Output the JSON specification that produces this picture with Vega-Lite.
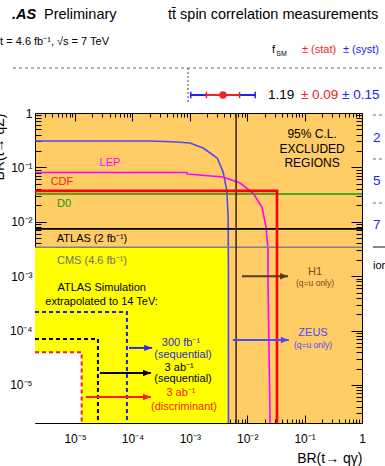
{
  "$schema": "https://vega.github.io/schema/vega-lite/v6.json",
  "width": 327,
  "height": 310,
  "autosize": {"type": "none"},
  "padding": {"left": 35, "top": 113, "right": 23, "bottom": 43},
  "background": "#ffffff",
  "config": {
    "view": {"fill": "#FFCC66", "stroke": null},
    "font": "Liberation Sans",
    "axis": {"zindex": 1, "grid": false, "domainColor": "#000000", "tickColor": "#000000", "labelColor": "#000000", "titleColor": "#000000", "labelFont": "Liberation Sans", "titleFont": "Liberation Sans", "domainWidth": 1, "tickWidth": 1}
  },
  "datasets": {
    "spintext": [
      {"k": "title", "part": "label", "f": 0.8914, "v": -1.2, "t": "tt̄ spin correlation measurements"},
      {"k": "prelim", "part": "label", "f": 0.2183, "v": -1.2, "t": "Preliminary"},
      {"k": "atlas", "part": "label", "f": 0.0445, "v": -1.2, "t": ".AS"},
      {"k": "lumi", "part": "label", "f": -0.02, "v": -0.59, "t": "t = 4.6 fb⁻¹, √s = 7 TeV"},
      {"k": "head", "part": "label", "f": 1.456, "v": -0.41, "t": "f"},
      {"k": "sub", "part": "label", "f": 1.479, "v": -0.318, "t": "SM"},
      {"k": "head", "part": "stat", "f": 1.619, "v": -0.41, "t": "± (stat)"},
      {"k": "head", "part": "syst", "f": 1.841, "v": -0.41, "t": "± (syst)"},
      {"k": "val", "part": "label", "f": 1.434, "v": 0.614, "t": "1.19"},
      {"k": "val", "part": "stat", "f": 1.613, "v": 0.614, "t": "± 0.09"},
      {"k": "val", "part": "syst", "f": 1.836, "v": 0.614, "t": "± 0.15"},
      {"k": "val", "part": "syst", "f": 2.004, "v": 1.59, "t": "2"},
      {"k": "val", "part": "syst", "f": 2.004, "v": 2.568, "t": "5"},
      {"k": "val", "part": "syst", "f": 2.004, "v": 3.568, "t": "7"},
      {"k": "head", "part": "label", "f": 2.004, "v": 4.5, "t": "ion"}
    ],
    "spinsep": [
      {"kind": "dashed", "f1": 0.05, "f2": 2.07, "v": 0},
      {"kind": "dashed", "f1": 2.004, "f2": 2.07, "v": 1.068},
      {"kind": "dashed", "f1": 2.004, "f2": 2.07, "v": 2.068},
      {"kind": "dashed", "f1": 2.004, "f2": 2.07, "v": 3.068},
      {"kind": "solid", "f1": 2.004, "f2": 2.07, "v": 4.068}
    ],
    "spinref": [{"f": 1, "v1": 0, "v2": 0.8}],
    "spinmeas": [{"f": 1.19, "lo_tot": 1.015, "hi_tot": 1.365, "lo_stat": 1.1, "hi_stat": 1.28, "v": 0.614}],
    "regions": [
      {"id": "current", "x1": 2e-6, "x2": 0.0047, "y1": 2e-6, "y2": 0.0034},
      {"id": "beyond", "x1": 2e-6, "x2": 1.3e-5, "y1": 2e-6, "y2": 4.0e-5}
    ],
    "brlines": [
      {"s": "ZEUS", "i": 0, "x": 2e-6, "y": 0.306},
      {"s": "ZEUS", "i": 1, "x": 2e-4, "y": 0.306},
      {"s": "ZEUS", "i": 2, "x": 5e-4, "y": 0.296},
      {"s": "ZEUS", "i": 3, "x": 0.001, "y": 0.281},
      {"s": "ZEUS", "i": 4, "x": 0.0017, "y": 0.227},
      {"s": "ZEUS", "i": 5, "x": 0.003, "y": 0.149},
      {"s": "ZEUS", "i": 6, "x": 0.0038, "y": 0.082},
      {"s": "ZEUS", "i": 7, "x": 0.0044, "y": 0.038},
      {"s": "ZEUS", "i": 8, "x": 0.00465, "y": 0.0122},
      {"s": "ZEUS", "i": 9, "x": 0.0047, "y": 0.001},
      {"s": "ZEUS", "i": 10, "x": 0.0047, "y": 2e-6},
      {"s": "LEP", "i": 0, "x": 2e-6, "y": 0.0805},
      {"s": "LEP", "i": 1, "x": 8.9e-4, "y": 0.0805},
      {"s": "LEP", "i": 2, "x": 9.0e-4, "y": 0.0756},
      {"s": "LEP", "i": 3, "x": 0.0038, "y": 0.0666},
      {"s": "LEP", "i": 4, "x": 0.0075, "y": 0.0516},
      {"s": "LEP", "i": 5, "x": 0.0126, "y": 0.0338},
      {"s": "LEP", "i": 6, "x": 0.018, "y": 0.0187},
      {"s": "LEP", "i": 7, "x": 0.0213, "y": 0.008},
      {"s": "LEP", "i": 8, "x": 0.023, "y": 0.003},
      {"s": "LEP", "i": 9, "x": 0.023, "y": 8.5e-4},
      {"s": "LEP", "i": 10, "x": 0.025, "y": 2e-6},
      {"s": "CDF", "i": 0, "x": 2e-6, "y": 0.037},
      {"s": "CDF", "i": 1, "x": 0.033, "y": 0.037},
      {"s": "CDF", "i": 2, "x": 0.033, "y": 2e-6},
      {"s": "D0", "i": 0, "x": 2e-6, "y": 0.0324},
      {"s": "D0", "i": 1, "x": 1, "y": 0.0324},
      {"s": "ATLAS", "i": 0, "x": 2e-6, "y": 0.0074},
      {"s": "ATLAS", "i": 1, "x": 1, "y": 0.0074},
      {"s": "CMS", "i": 0, "x": 2e-6, "y": 0.0034},
      {"s": "CMS", "i": 1, "x": 1, "y": 0.0034},
      {"s": "H1", "i": 0, "x": 0.0064, "y": 2e-6},
      {"s": "H1", "i": 1, "x": 0.0064, "y": 1}
    ],
    "sim": [
      {"s": "s300", "i": 0, "x": 2e-6, "y": 2.2e-4},
      {"s": "s300", "i": 1, "x": 8.0e-5, "y": 2.2e-4},
      {"s": "s300", "i": 2, "x": 8.0e-5, "y": 2e-6},
      {"s": "s3ab", "i": 0, "x": 2e-6, "y": 7.0e-5},
      {"s": "s3ab", "i": 1, "x": 2.5e-5, "y": 7.0e-5},
      {"s": "s3ab", "i": 2, "x": 2.5e-5, "y": 2e-6},
      {"s": "s3abd", "i": 0, "x": 2e-6, "y": 4.0e-5},
      {"s": "s3abd", "i": 1, "x": 1.3e-5, "y": 4.0e-5},
      {"s": "s3abd", "i": 2, "x": 1.3e-5, "y": 2e-6}
    ],
    "arrows": [
      {"s": "s300", "x1": 8.7e-5, "x2": 2.2e-4, "y": 4.8e-5},
      {"s": "s3ab", "x1": 2.7e-5, "x2": 2.1e-4, "y": 1.66e-5},
      {"s": "s3abd", "x1": 1.55e-5, "x2": 2.1e-4, "y": 6.0e-6},
      {"s": "H1", "x1": 0.0081, "x2": 0.0514, "y": 0.001},
      {"s": "ZEUS", "x1": 0.0056, "x2": 0.053, "y": 6.7e-5}
    ],
    "brtext": [
      {"who": "LEP", "role": "main", "x": 4.05e-5, "y": 0.12, "t": "LEP"},
      {"who": "CDF", "role": "main", "x": 5.9e-6, "y": 0.054, "t": "CDF"},
      {"who": "D0", "role": "main", "x": 6.4e-6, "y": 0.0212, "t": "D0"},
      {"who": "ATLAS", "role": "main", "x": 1.97e-5, "y": 0.0048, "t": "ATLAS (2 fb⁻¹)"},
      {"who": "CMS", "role": "main", "x": 1.97e-5, "y": 0.0019, "t": "CMS (4.6 fb⁻¹)"},
      {"who": "CL", "role": "cl", "x": 0.135, "y": 0.41, "t": "95% C.L."},
      {"who": "CL", "role": "cl", "x": 0.135, "y": 0.218, "t": "EXCLUDED"},
      {"who": "CL", "role": "cl", "x": 0.135, "y": 0.12, "t": "REGIONS"},
      {"who": "H1", "role": "main", "x": 0.152, "y": 0.00119, "t": "H1"},
      {"who": "H1", "role": "sub", "x": 0.152, "y": 7.5e-4, "t": "(q=u only)"},
      {"who": "ZEUS", "role": "main", "x": 0.14, "y": 9.0e-5, "t": "ZEUS"},
      {"who": "ZEUS", "role": "sub", "x": 0.14, "y": 5.4e-5, "t": "(q=u only)"},
      {"who": "sim", "role": "main", "x": 2.9e-5, "y": 6.1e-4, "t": "ATLAS Simulation"},
      {"who": "sim", "role": "main", "x": 2.9e-5, "y": 3.35e-4, "t": "extrapolated to 14 TeV:"},
      {"who": "s300", "role": "main", "x": 7.0e-4, "y": 5.9e-5, "t": "300 fb⁻¹"},
      {"who": "s300", "role": "main", "x": 7.6e-4, "y": 3.6e-5, "t": "(sequential)"},
      {"who": "s3ab", "role": "main", "x": 6.5e-4, "y": 2.05e-5, "t": "3 ab⁻¹"},
      {"who": "s3ab", "role": "main", "x": 7.6e-4, "y": 1.29e-5, "t": "(sequential)"},
      {"who": "s3abd", "role": "main", "x": 7.0e-4, "y": 7.1e-6, "t": "3 ab⁻¹"},
      {"who": "s3abd", "role": "main", "x": 7.9e-4, "y": 3.9e-6, "t": "(discriminant)"}
    ]
  },
  "layer": [
    {
      "layer": [
        {
          "data": {"name": "spinsep"},
          "transform": [{"filter": "datum.kind == 'dashed'"}],
          "mark": {"type": "rule", "color": "#666666", "strokeDash": [3, 3], "strokeWidth": 1},
          "encoding": {
            "x": {"field": "f1", "type": "quantitative", "scale": {"domain": [0.1694, 1.9446], "nice": false, "zero": false}, "axis": null},
            "x2": {"field": "f2"},
            "y": {"field": "v", "type": "quantitative", "scale": {"domain": [1.0227, 8.0682], "reverse": true, "nice": false, "zero": false}, "axis": null}
          }
        },
        {
          "data": {"name": "spinsep"},
          "transform": [{"filter": "datum.kind == 'solid'"}],
          "mark": {"type": "rule", "color": "#888888", "strokeWidth": 2},
          "encoding": {
            "x": {"field": "f1", "type": "quantitative", "scale": {"domain": [0.1694, 1.9446], "nice": false, "zero": false}, "axis": null},
            "x2": {"field": "f2"},
            "y": {"field": "v", "type": "quantitative", "scale": {"domain": [1.0227, 8.0682], "reverse": true, "nice": false, "zero": false}, "axis": null}
          }
        },
        {
          "data": {"name": "spinref"},
          "mark": {"type": "rule", "color": "#444444", "strokeDash": [2, 2], "strokeWidth": 1},
          "encoding": {
            "x": {"field": "f", "type": "quantitative", "scale": {"domain": [0.1694, 1.9446], "nice": false, "zero": false}, "axis": null},
            "y": {"field": "v1", "type": "quantitative", "scale": {"domain": [1.0227, 8.0682], "reverse": true, "nice": false, "zero": false}, "axis": null},
            "y2": {"field": "v2"}
          }
        },
        {
          "data": {"name": "spinmeas"},
          "mark": {"type": "rule", "color": "#2424f0", "strokeWidth": 2},
          "encoding": {
            "x": {"field": "lo_tot", "type": "quantitative", "scale": {"domain": [0.1694, 1.9446], "nice": false, "zero": false}, "axis": null},
            "x2": {"field": "hi_tot"},
            "y": {"field": "v", "type": "quantitative", "scale": {"domain": [1.0227, 8.0682], "reverse": true, "nice": false, "zero": false}, "axis": null}
          }
        },
        {
          "data": {"name": "spinmeas"},
          "transform": [{"fold": ["lo_tot", "hi_tot"], "as": ["end", "fe"]}],
          "mark": {"type": "point", "shape": "M0,-1L0,1", "size": 40, "filled": false, "stroke": "#2424f0", "strokeWidth": 1.5, "opacity": 1},
          "encoding": {
            "x": {"field": "fe", "type": "quantitative", "scale": {"domain": [0.1694, 1.9446], "nice": false, "zero": false}, "axis": null},
            "y": {"field": "v", "type": "quantitative", "scale": {"domain": [1.0227, 8.0682], "reverse": true, "nice": false, "zero": false}, "axis": null}
          }
        },
        {
          "data": {"name": "spinmeas"},
          "mark": {"type": "rule", "color": "#ee2222", "strokeWidth": 2},
          "encoding": {
            "x": {"field": "lo_stat", "type": "quantitative", "scale": {"domain": [0.1694, 1.9446], "nice": false, "zero": false}, "axis": null},
            "x2": {"field": "hi_stat"},
            "y": {"field": "v", "type": "quantitative", "scale": {"domain": [1.0227, 8.0682], "reverse": true, "nice": false, "zero": false}, "axis": null}
          }
        },
        {
          "data": {"name": "spinmeas"},
          "transform": [{"fold": ["lo_stat", "hi_stat"], "as": ["end", "fe"]}],
          "mark": {"type": "point", "shape": "M0,-1L0,1", "size": 40, "filled": false, "stroke": "#ee2222", "strokeWidth": 1.5, "opacity": 1},
          "encoding": {
            "x": {"field": "fe", "type": "quantitative", "scale": {"domain": [0.1694, 1.9446], "nice": false, "zero": false}, "axis": null},
            "y": {"field": "v", "type": "quantitative", "scale": {"domain": [1.0227, 8.0682], "reverse": true, "nice": false, "zero": false}, "axis": null}
          }
        },
        {
          "data": {"name": "spinmeas"},
          "mark": {"type": "point", "shape": "circle", "size": 55, "filled": true, "color": "#ee2222", "opacity": 1},
          "encoding": {
            "x": {"field": "f", "type": "quantitative", "scale": {"domain": [0.1694, 1.9446], "nice": false, "zero": false}, "axis": null},
            "y": {"field": "v", "type": "quantitative", "scale": {"domain": [1.0227, 8.0682], "reverse": true, "nice": false, "zero": false}, "axis": null}
          }
        },
        {
          "data": {"name": "spintext"},
          "transform": [{"filter": "datum.k == 'title' || datum.k == 'prelim'"}],
          "mark": {"type": "text", "fontSize": 14.5, "align": "left", "baseline": "middle", "color": "#000000"},
          "encoding": {
            "x": {"field": "f", "type": "quantitative", "scale": {"domain": [0.1694, 1.9446], "nice": false, "zero": false}, "axis": null},
            "y": {"field": "v", "type": "quantitative", "scale": {"domain": [1.0227, 8.0682], "reverse": true, "nice": false, "zero": false}, "axis": null},
            "text": {"field": "t"}
          }
        },
        {
          "data": {"name": "spintext"},
          "transform": [{"filter": "datum.k == 'atlas'"}],
          "mark": {"type": "text", "fontSize": 14.5, "fontWeight": "bold", "fontStyle": "italic", "align": "left", "baseline": "middle", "color": "#000000"},
          "encoding": {
            "x": {"field": "f", "type": "quantitative", "scale": {"domain": [0.1694, 1.9446], "nice": false, "zero": false}, "axis": null},
            "y": {"field": "v", "type": "quantitative", "scale": {"domain": [1.0227, 8.0682], "reverse": true, "nice": false, "zero": false}, "axis": null},
            "text": {"field": "t"}
          }
        },
        {
          "data": {"name": "spintext"},
          "transform": [{"filter": "datum.k == 'head' || datum.k == 'lumi'"}],
          "mark": {"type": "text", "fontSize": 11, "align": "left", "baseline": "middle"},
          "encoding": {
            "x": {"field": "f", "type": "quantitative", "scale": {"domain": [0.1694, 1.9446], "nice": false, "zero": false}, "axis": null},
            "y": {"field": "v", "type": "quantitative", "scale": {"domain": [1.0227, 8.0682], "reverse": true, "nice": false, "zero": false}, "axis": null},
            "text": {"field": "t"},
            "color": {"field": "part", "type": "nominal", "scale": {"domain": ["label", "stat", "syst"], "range": ["#000000", "#ee2222", "#2424f0"]}, "legend": null}
          }
        },
        {
          "data": {"name": "spintext"},
          "transform": [{"filter": "datum.k == 'sub'"}],
          "mark": {"type": "text", "fontSize": 7, "align": "left", "baseline": "middle", "color": "#000000"},
          "encoding": {
            "x": {"field": "f", "type": "quantitative", "scale": {"domain": [0.1694, 1.9446], "nice": false, "zero": false}, "axis": null},
            "y": {"field": "v", "type": "quantitative", "scale": {"domain": [1.0227, 8.0682], "reverse": true, "nice": false, "zero": false}, "axis": null},
            "text": {"field": "t"}
          }
        },
        {
          "data": {"name": "spintext"},
          "transform": [{"filter": "datum.k == 'val'"}],
          "mark": {"type": "text", "fontSize": 13.5, "align": "left", "baseline": "middle"},
          "encoding": {
            "x": {"field": "f", "type": "quantitative", "scale": {"domain": [0.1694, 1.9446], "nice": false, "zero": false}, "axis": null},
            "y": {"field": "v", "type": "quantitative", "scale": {"domain": [1.0227, 8.0682], "reverse": true, "nice": false, "zero": false}, "axis": null},
            "text": {"field": "t"},
            "color": {"field": "part", "type": "nominal", "scale": {"domain": ["label", "stat", "syst"], "range": ["#000000", "#ee2222", "#2424f0"]}, "legend": null}
          }
        }
      ],
      "resolve": {"scale": {"color": "independent"}}
    },
    {
      "layer": [
        {
          "data": {"name": "regions"},
          "transform": [{"filter": "datum.id == 'current'"}],
          "mark": {"type": "rect", "fill": "#FFFF00"},
          "encoding": {
            "x": {"field": "x1", "type": "quantitative", "scale": {"type": "log", "domain": [2e-6, 1], "nice": false},
              "axis": {"orient": "bottom", "values": [1e-5, 1e-4, 0.001, 0.01, 0.1, 1], "labelExpr": "datum.value > 0.5 ? '1' : '10' + ['⁰','⁻¹','⁻²','⁻³','⁻⁴','⁻⁵','⁻⁶'][round(-log(datum.value)/LN10)]", "ticks": false, "domain": true, "labelFontSize": 12, "labelPadding": 19, "labelBaseline": "alphabetic", "labelFlush": false, "labelOverlap": false, "title": "BR(t→ qγ)", "titleFontSize": 14, "titleFontWeight": "normal", "titleAnchor": "end", "titleAlign": "right", "titleX": 327, "titleY": 39, "titleBaseline": "alphabetic"}},
            "x2": {"field": "x2"},
            "y": {"field": "y1", "type": "quantitative", "scale": {"type": "log", "domain": [2e-6, 1], "nice": false},
              "axis": {"orient": "left", "values": [1e-5, 1e-4, 0.001, 0.01, 0.1, 1], "labelExpr": "datum.value > 0.5 ? '1' : '10' + ['⁰','⁻¹','⁻²','⁻³','⁻⁴','⁻⁵','⁻⁶'][round(-log(datum.value)/LN10)]", "ticks": false, "domain": true, "labelFontSize": 12, "labelPadding": 3, "labelBaseline": "middle", "labelFlush": false, "labelOverlap": false, "title": "BR(t→ qZ)", "titleFontSize": 14, "titleFontWeight": "normal", "titleAngle": 270, "titleAlign": "right", "titleBaseline": "alphabetic", "titleX": -32, "titleY": 0}},
            "y2": {"field": "y2"}
          }
        },
        {
          "data": {"name": "regions"},
          "transform": [{"filter": "datum.id == 'beyond'"}],
          "mark": {"type": "rect", "fill": "#FFFFFF"},
          "encoding": {
            "x": {"field": "x1", "type": "quantitative", "scale": {"type": "log", "domain": [2e-6, 1], "nice": false},
              "axis": {"orient": "bottom", "values": [1e-5, 1e-4, 0.001, 0.01, 0.1, 1], "labels": false, "domain": false, "ticks": true, "tickSize": -8, "title": null}},
            "x2": {"field": "x2"},
            "y": {"field": "y1", "type": "quantitative", "scale": {"type": "log", "domain": [2e-6, 1], "nice": false},
              "axis": {"orient": "left", "values": [1e-5, 1e-4, 0.001, 0.01, 0.1, 1], "labels": false, "domain": false, "ticks": true, "tickSize": -11, "title": null}},
            "y2": {"field": "y2"}
          }
        },
        {
          "data": {"name": "brlines"},
          "transform": [{"filter": "datum.s != 'CDF'"}],
          "mark": {"type": "line", "strokeWidth": 1.6, "interpolate": "linear"},
          "encoding": {
            "x": {"field": "x", "type": "quantitative", "scale": {"type": "log", "domain": [2e-6, 1], "nice": false},
              "axis": {"orient": "bottom", "values": [3e-6, 4e-6, 5e-6, 6e-6, 7e-6, 8e-6, 9e-6, 2e-5, 3e-5, 4e-5, 5e-5, 6e-5, 7e-5, 8e-5, 9e-5, 2e-4, 3e-4, 4e-4, 5e-4, 6e-4, 7e-4, 8e-4, 9e-4, 0.002, 0.003, 0.004, 0.005, 0.006, 0.007, 0.008, 0.009, 0.02, 0.03, 0.04, 0.05, 0.06, 0.07, 0.08, 0.09, 0.2, 0.3, 0.4, 0.5, 0.6, 0.7, 0.8, 0.9], "labels": false, "domain": false, "ticks": true, "tickSize": -4, "title": null}},
            "y": {"field": "y", "type": "quantitative", "scale": {"type": "log", "domain": [2e-6, 1], "nice": false},
              "axis": {"orient": "left", "values": [3e-6, 4e-6, 5e-6, 6e-6, 7e-6, 8e-6, 9e-6, 2e-5, 3e-5, 4e-5, 5e-5, 6e-5, 7e-5, 8e-5, 9e-5, 2e-4, 3e-4, 4e-4, 5e-4, 6e-4, 7e-4, 8e-4, 9e-4, 0.002, 0.003, 0.004, 0.005, 0.006, 0.007, 0.008, 0.009, 0.02, 0.03, 0.04, 0.05, 0.06, 0.07, 0.08, 0.09, 0.2, 0.3, 0.4, 0.5, 0.6, 0.7, 0.8, 0.9], "labels": false, "domain": false, "ticks": true, "tickSize": -6, "title": null}},
            "order": {"field": "i", "type": "quantitative"},
            "color": {"field": "s", "type": "nominal", "scale": {"domain": ["ZEUS", "LEP", "D0", "ATLAS", "CMS", "H1"], "range": ["#4b4bf5", "#ff00ff", "#109a10", "#000000", "#808080", "#4a2e0a"]}, "legend": null}
          }
        },
        {
          "data": {"name": "brlines"},
          "transform": [{"filter": "datum.s == 'CDF'"}],
          "mark": {"type": "line", "strokeWidth": 2.6, "color": "#ff0000"},
          "encoding": {
            "x": {"field": "x", "type": "quantitative", "scale": {"type": "log", "domain": [2e-6, 1], "nice": false}, "axis": null},
            "y": {"field": "y", "type": "quantitative", "scale": {"type": "log", "domain": [2e-6, 1], "nice": false}, "axis": null},
            "order": {"field": "i", "type": "quantitative"}
          }
        },
        {
          "data": {"name": "sim"},
          "mark": {"type": "line", "strokeWidth": 2, "strokeDash": [4, 3]},
          "encoding": {
            "x": {"field": "x", "type": "quantitative", "scale": {"type": "log", "domain": [2e-6, 1], "nice": false},
              "axis": {"orient": "top", "values": [1e-5, 1e-4, 0.001, 0.01, 0.1, 1], "labels": false, "domain": true, "ticks": true, "tickSize": -8, "title": null}},
            "y": {"field": "y", "type": "quantitative", "scale": {"type": "log", "domain": [2e-6, 1], "nice": false},
              "axis": {"orient": "right", "values": [1e-5, 1e-4, 0.001, 0.01, 0.1, 1], "labels": false, "domain": true, "ticks": true, "tickSize": -11, "title": null}},
            "order": {"field": "i", "type": "quantitative"},
            "color": {"field": "s", "type": "nominal", "scale": {"domain": ["s300", "s3ab", "s3abd"], "range": ["#1f1ff0", "#000000", "#ff1a1a"]}, "legend": null}
          }
        },
        {
          "data": {"name": "arrows"},
          "mark": {"type": "rule", "strokeWidth": 2},
          "encoding": {
            "x": {"field": "x1", "type": "quantitative", "scale": {"type": "log", "domain": [2e-6, 1], "nice": false},
              "axis": {"orient": "top", "values": [3e-6, 4e-6, 5e-6, 6e-6, 7e-6, 8e-6, 9e-6, 2e-5, 3e-5, 4e-5, 5e-5, 6e-5, 7e-5, 8e-5, 9e-5, 2e-4, 3e-4, 4e-4, 5e-4, 6e-4, 7e-4, 8e-4, 9e-4, 0.002, 0.003, 0.004, 0.005, 0.006, 0.007, 0.008, 0.009, 0.02, 0.03, 0.04, 0.05, 0.06, 0.07, 0.08, 0.09, 0.2, 0.3, 0.4, 0.5, 0.6, 0.7, 0.8, 0.9], "labels": false, "domain": false, "ticks": true, "tickSize": -4, "title": null}},
            "x2": {"field": "x2"},
            "y": {"field": "y", "type": "quantitative", "scale": {"type": "log", "domain": [2e-6, 1], "nice": false},
              "axis": {"orient": "right", "values": [3e-6, 4e-6, 5e-6, 6e-6, 7e-6, 8e-6, 9e-6, 2e-5, 3e-5, 4e-5, 5e-5, 6e-5, 7e-5, 8e-5, 9e-5, 2e-4, 3e-4, 4e-4, 5e-4, 6e-4, 7e-4, 8e-4, 9e-4, 0.002, 0.003, 0.004, 0.005, 0.006, 0.007, 0.008, 0.009, 0.02, 0.03, 0.04, 0.05, 0.06, 0.07, 0.08, 0.09, 0.2, 0.3, 0.4, 0.5, 0.6, 0.7, 0.8, 0.9], "labels": false, "domain": false, "ticks": true, "tickSize": -6, "title": null}},
            "color": {"field": "s", "type": "nominal", "scale": {"domain": ["s300", "s3ab", "s3abd", "H1", "ZEUS"], "range": ["#2a2af5", "#000000", "#ff1a1a", "#5c3a12", "#4b4bf5"]}, "legend": null}
          }
        },
        {
          "data": {"name": "arrows"},
          "mark": {"type": "point", "shape": "M0,0L-1,-0.4L-1,0.4Z", "size": 256, "filled": true, "opacity": 1},
          "encoding": {
            "x": {"field": "x2", "type": "quantitative", "scale": {"type": "log", "domain": [2e-6, 1], "nice": false}, "axis": null},
            "y": {"field": "y", "type": "quantitative", "scale": {"type": "log", "domain": [2e-6, 1], "nice": false}, "axis": null},
            "color": {"field": "s", "type": "nominal", "scale": {"domain": ["s300", "s3ab", "s3abd", "H1", "ZEUS"], "range": ["#2a2af5", "#000000", "#ff1a1a", "#5c3a12", "#4b4bf5"]}, "legend": null}
          }
        },
        {
          "data": {"name": "brtext"},
          "transform": [{"filter": "datum.role == 'main'"}],
          "mark": {"type": "text", "fontSize": 11, "align": "center", "baseline": "middle"},
          "encoding": {
            "x": {"field": "x", "type": "quantitative", "scale": {"type": "log", "domain": [2e-6, 1], "nice": false}, "axis": null},
            "y": {"field": "y", "type": "quantitative", "scale": {"type": "log", "domain": [2e-6, 1], "nice": false}, "axis": null},
            "text": {"field": "t"},
            "color": {"field": "who", "type": "nominal", "scale": {"domain": ["LEP", "CDF", "D0", "ATLAS", "CMS", "H1", "ZEUS", "sim", "s300", "s3ab", "s3abd"], "range": ["#ff00ff", "#ff1a1a", "#119911", "#000000", "#6e6e6e", "#7a4a1a", "#4b4bf5", "#000000", "#2a2ad0", "#000000", "#ff1a1a"]}, "legend": null}
          }
        },
        {
          "data": {"name": "brtext"},
          "transform": [{"filter": "datum.role == 'sub'"}],
          "mark": {"type": "text", "fontSize": 8.5, "align": "center", "baseline": "middle"},
          "encoding": {
            "x": {"field": "x", "type": "quantitative", "scale": {"type": "log", "domain": [2e-6, 1], "nice": false}, "axis": null},
            "y": {"field": "y", "type": "quantitative", "scale": {"type": "log", "domain": [2e-6, 1], "nice": false}, "axis": null},
            "text": {"field": "t"},
            "color": {"field": "who", "type": "nominal", "scale": {"domain": ["H1", "ZEUS"], "range": ["#7a4a1a", "#4b4bf5"]}, "legend": null}
          }
        },
        {
          "data": {"name": "brtext"},
          "transform": [{"filter": "datum.role == 'cl'"}],
          "mark": {"type": "text", "fontSize": 12, "align": "center", "baseline": "middle", "color": "#000000"},
          "encoding": {
            "x": {"field": "x", "type": "quantitative", "scale": {"type": "log", "domain": [2e-6, 1], "nice": false}, "axis": null},
            "y": {"field": "y", "type": "quantitative", "scale": {"type": "log", "domain": [2e-6, 1], "nice": false}, "axis": null},
            "text": {"field": "t"}
          }
        }
      ],
      "resolve": {"scale": {"color": "independent"}, "axis": {"x": "independent", "y": "independent"}}
    }
  ],
  "resolve": {"scale": {"x": "independent", "y": "independent", "color": "independent"}}
}
